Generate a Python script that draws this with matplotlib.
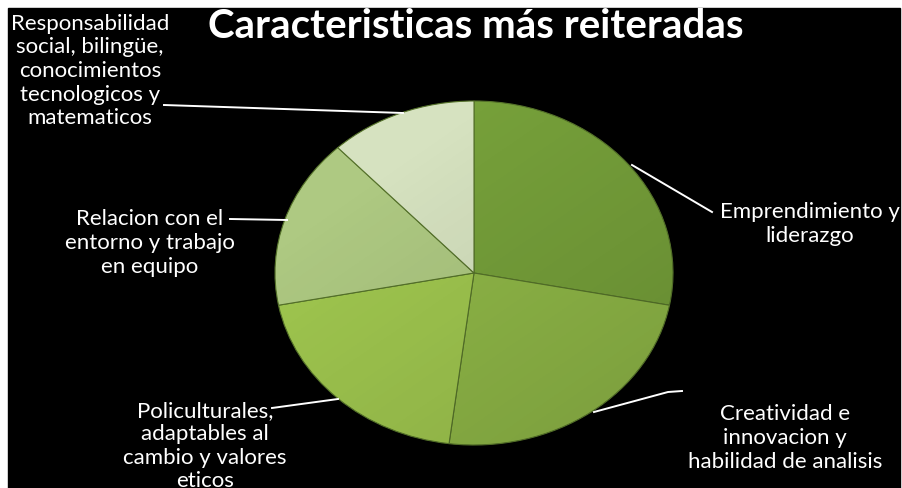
import numpy as np
import matplotlib.pyplot as plt
from matplotlib.lines import Line2D
from matplotlib.patches import Rectangle, Ellipse

# Data (share of mentions, %)
categories = ['Emprendimiento y\nliderazgo',
              'Creatividad e\ninnovacion y\nhabilidad de analisis',
              'Policulturales,\nadaptables al\ncambio y valores\neticos',
              'Relacion con el\nentorno y trabajo\nen equipo',
              'Responsabilidad\nsocial, bilingüe,\nconocimientos\ntecnologicos y\nmatematicos']
values = [28, 24, 20, 16, 12]
colors = ['#76a03a', '#8fb747', '#a0c74f', '#aec982', '#d6e2c0']
title = 'Caracteristicas más reiteradas'

W, H = 903, 489
fig = plt.figure(figsize=(W / 100, H / 100), dpi=100)
fig.patch.set_facecolor('white')

# black slide background (small white margin left/top/right)
bg = fig.add_axes([0, 0, 1, 1])
bg.set_xlim(0, W)
bg.set_ylim(H, 0)
bg.axis('off')
bg.add_patch(Rectangle((8, 9), 892, 480, color='black'))

# pie squashed into an ellipse: 1 unit = 199 px across, 172 px down
cx, cy, rx, ry = 474, 274, 199, 172
ax = fig.add_axes([0, 0, 1, 1])
ax.pie(values, colors=colors, startangle=90, counterclock=False,
       wedgeprops=dict(edgecolor='#55722a', linewidth=0.8))
ax.set_aspect('auto')

# soft shading over the pie, a little darker toward the bottom right
yy, xx = np.mgrid[1:-1:200j, -1:1:200j]
shade = np.zeros((200, 200, 4))
shade[..., 3] = np.clip(0.05 - 0.05 * yy + 0.04 * xx, 0, 0.12)
clip = Ellipse((0, 0), 2, 2, transform=ax.transData)
im = ax.imshow(shade, extent=(-1, 1, -1, 1), aspect='auto', zorder=3)
im.set_clip_path(clip)
ax.set_xlim(-cx / rx, (W - cx) / rx)
ax.set_ylim(-(H - cy) / ry, cy / ry)
ax.axis('off')

font = 'Lato'


def px(x, y):
    return x / W, 1 - y / H


fig.text(*px(476, 27), title, color='white', fontsize=29, fontweight='bold',
         family=font, ha='center', va='center')

# label positions (image px) and leader lines
# (the last line of the lower-left label runs off the slide, as in the original)
label_pos = [(810, 224), (785, 438), (205, 446), (150, 243), (90, 71)]
leaders = [[(632, 166), (712, 213)],
           [(594, 413), (668, 393), (682, 392)],
           [(338, 400), (272, 409)],
           [(287, 221), (230, 220)],
           [(403, 114), (164, 106)]]

for lab, (x, y) in zip(categories, label_pos):
    fig.text(*px(x, y), lab, color='white', fontsize=16, family=font,
             ha='center', va='center', linespacing=1.22)

for pts in leaders:
    xs = [p[0] / W for p in pts]
    ys = [1 - p[1] / H for p in pts]
    fig.add_artist(Line2D(xs, ys, color='white', lw=1.4,
                          transform=fig.transFigure))

fig.savefig('out.png', dpi=100, facecolor=fig.get_facecolor())
